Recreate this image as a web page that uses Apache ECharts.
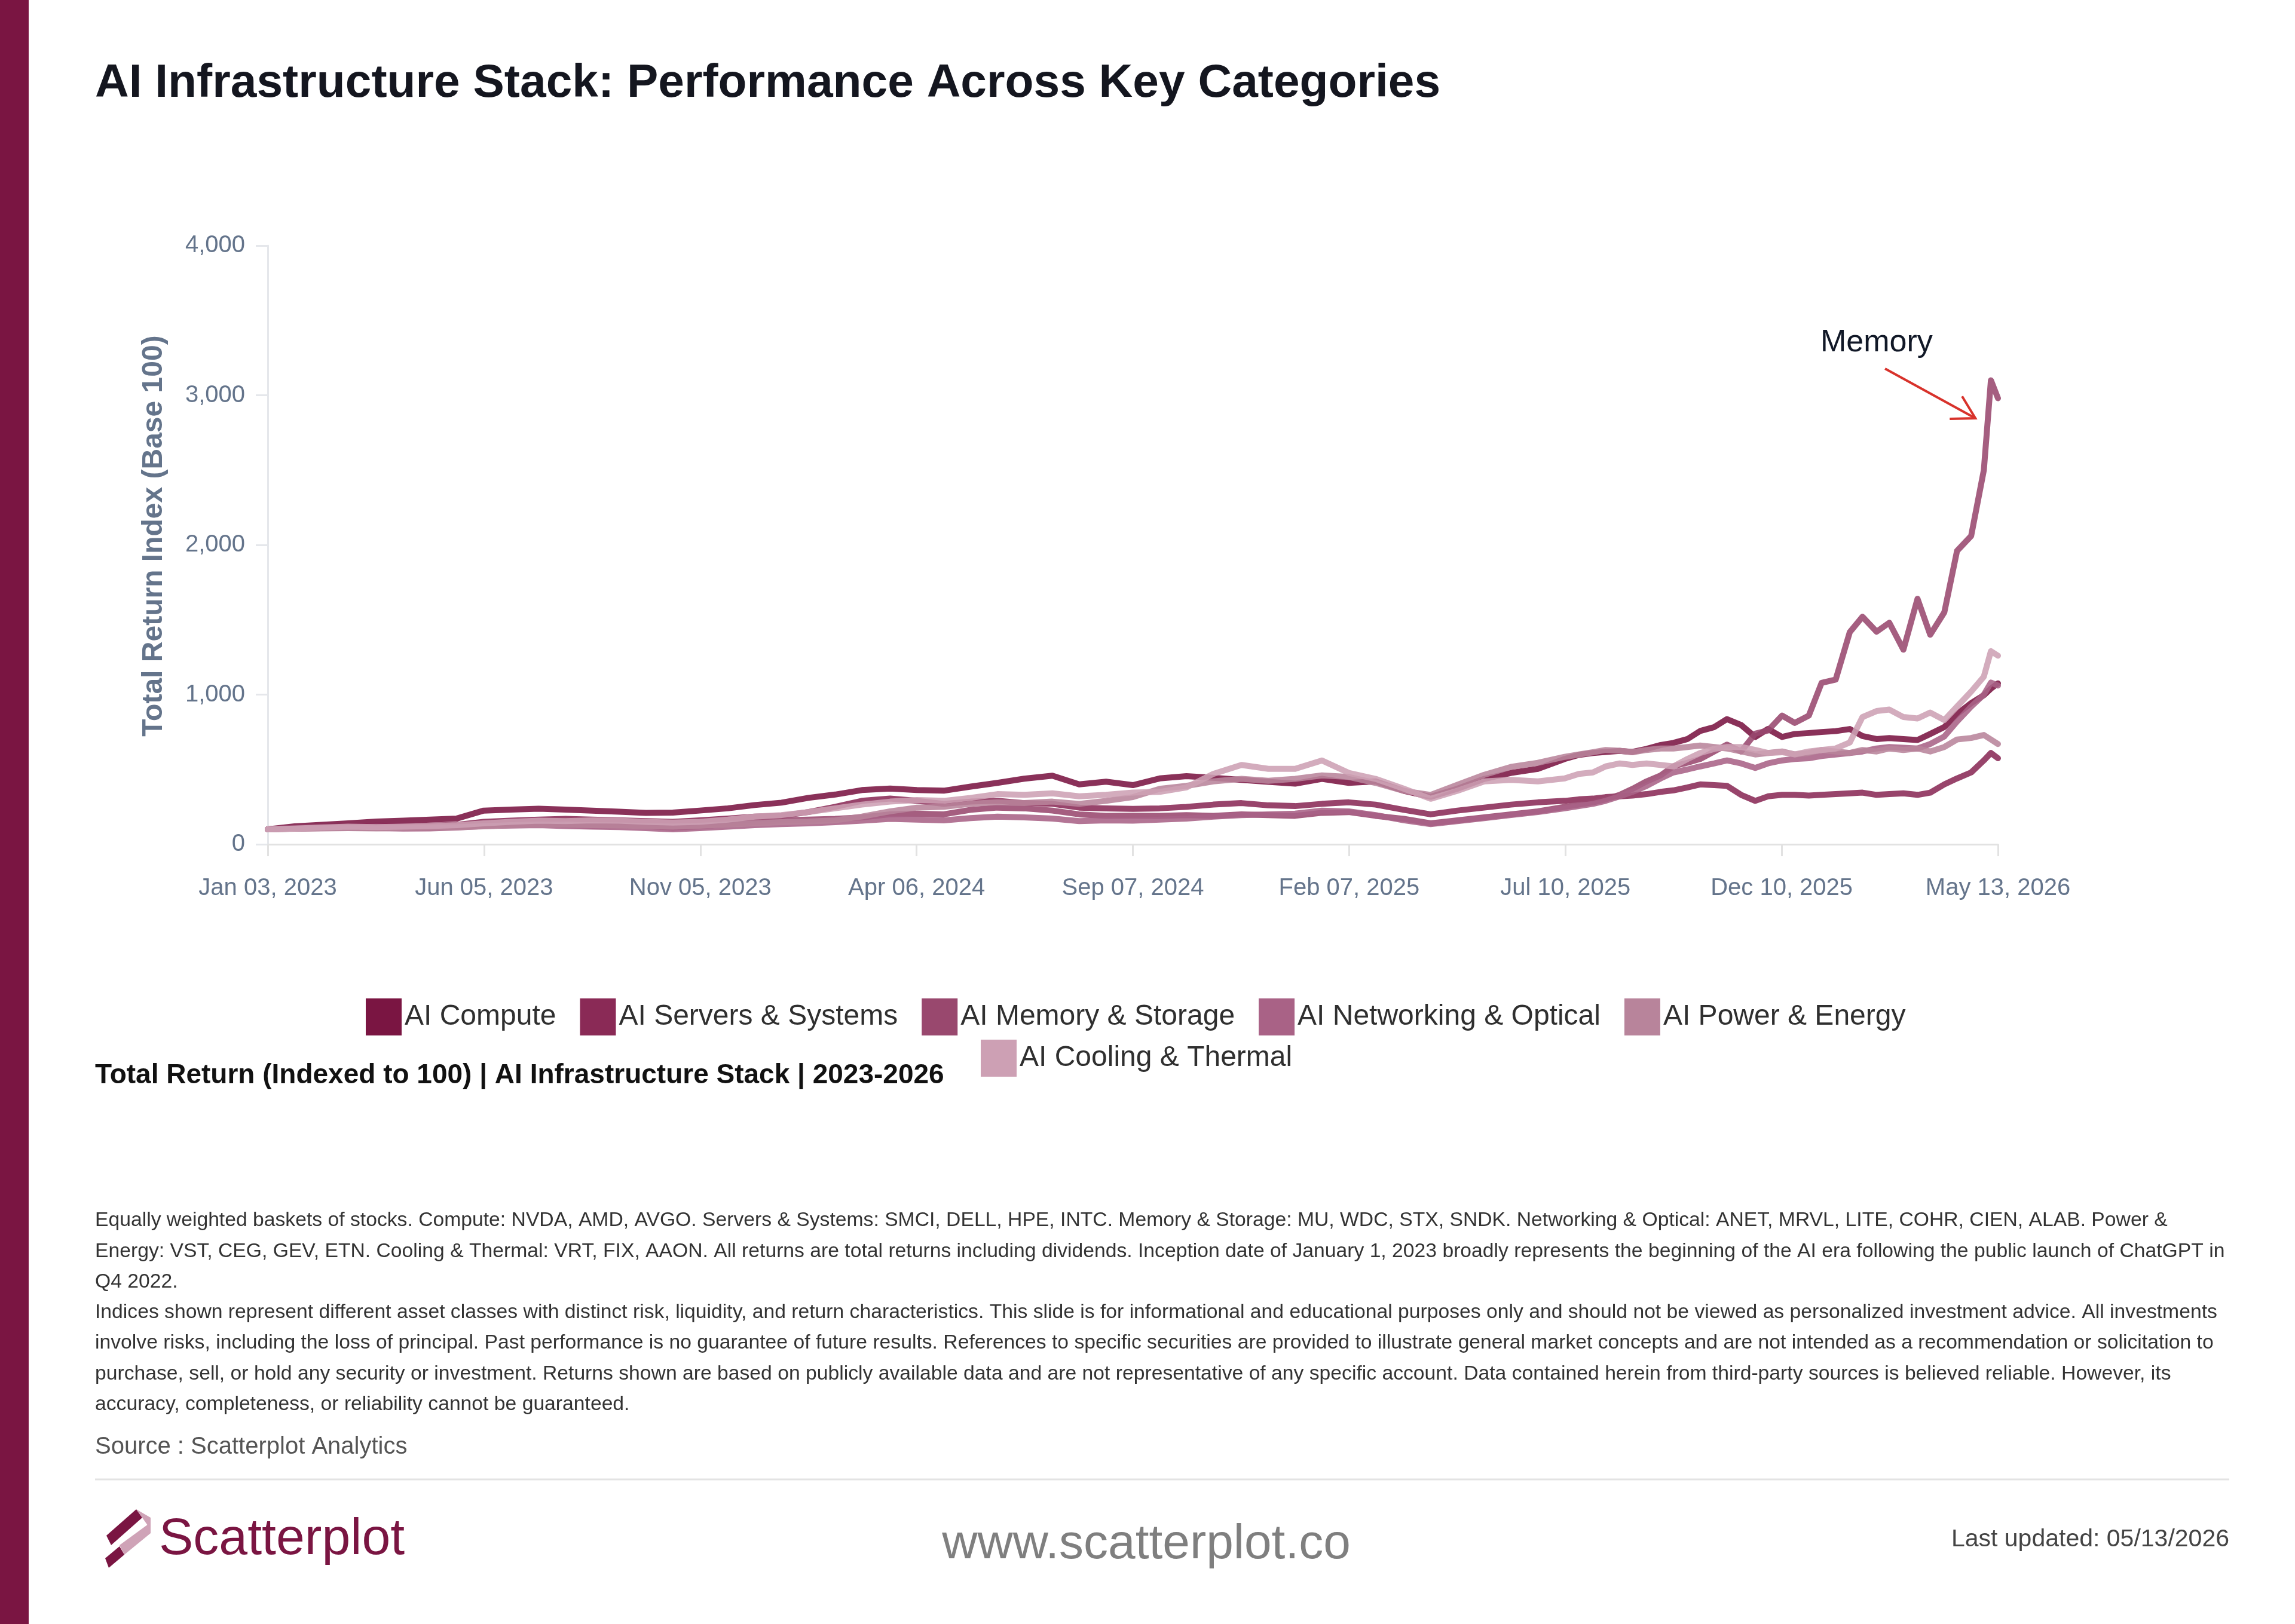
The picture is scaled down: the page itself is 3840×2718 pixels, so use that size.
<!DOCTYPE html>
<html><head><meta charset="utf-8">
<script src="https://cdn.jsdelivr.net/npm/echarts@6/dist/echarts.min.js"></script>
<style>html,body{margin:0;padding:0;background:#fff}#c{width:3840px;height:2718px}</style>
</head><body><div id="c"></div>
<script>
const dates = ["2023-01-03","2023-01-22","2023-02-10","2023-03-01","2023-03-21","2023-04-09","2023-04-28","2023-05-17","2023-06-05","2023-06-24","2023-07-14","2023-08-02","2023-08-21","2023-09-09","2023-09-28","2023-10-17","2023-11-05","2023-11-25","2023-12-14","2024-01-02","2024-01-21","2024-02-09","2024-02-28","2024-03-19","2024-04-07","2024-04-26","2024-05-15","2024-06-03","2024-06-22","2024-07-12","2024-07-31","2024-08-19","2024-09-07","2024-09-26","2024-10-15","2024-11-03","2024-11-23","2024-12-12","2024-12-31","2025-01-19","2025-02-07","2025-02-26","2025-03-18","2025-04-06","2025-04-25","2025-05-14","2025-06-02","2025-06-21","2025-07-10","2025-07-20","2025-07-30","2025-08-08","2025-08-18","2025-08-27","2025-09-06","2025-09-16","2025-09-25","2025-10-05","2025-10-14","2025-10-24","2025-11-02","2025-11-12","2025-11-22","2025-12-01","2025-12-11","2025-12-20","2025-12-30","2026-01-08","2026-01-18","2026-01-28","2026-02-06","2026-02-16","2026-02-25","2026-03-07","2026-03-17","2026-03-26","2026-04-05","2026-04-14","2026-04-24","2026-05-03","2026-05-08","2026-05-13"];

const seriesNames = ["AI Compute","AI Servers & Systems","AI Memory & Storage","AI Networking & Optical","AI Power & Energy","AI Cooling & Thermal"];

const compute = [100,120,130,140,152,158,165,172,225,232,238,232,225,218,210,212,225,240,262,278,310,332,362,372,362,358,385,410,438,458,400,418,395,440,455,444,430,417,405,437,410,420,357,317,371,437,477,504,570,
597,610,617,624,617,637,663,677,703,757,783,836,797,717,770,717,737,743,750,756,770,723,703,710,703,697,737,783,870,943,996,1040,1075];
const servers = [100,108,115,118,125,122,125,130,150,158,165,170,165,160,155,150,160,172,185,190,215,250,290,305,290,270,285,290,275,270,245,240,237,240,250,265,275,260,255,270,280,265,230,200,225,245,265,280,290,
300,305,315,320,325,335,350,360,380,400,395,390,330,290,320,330,330,325,330,335,340,345,330,335,340,330,345,400,440,480,560,610,575];
const memory = [100,110,115,112,118,112,110,118,130,132,135,128,125,128,122,112,120,135,148,160,165,170,180,200,205,200,230,245,240,225,200,190,191,190,195,190,200,195,190,210,215,190,170,140,160,180,200,220,250,
265,280,300,330,370,420,460,521,545,570,620,666,620,739,760,860,811,860,1078,1100,1417,1520,1420,1480,1300,1640,1400,1550,1960,2060,2500,3100,2980];
const networking = [100,105,108,110,108,105,106,112,122,125,128,122,118,115,108,100,108,118,128,135,140,148,158,170,165,160,175,185,180,172,155,160,158,165,172,185,195,200,205,225,220,195,160,135,155,175,195,215,240,
255,270,290,320,350,390,440,480,500,520,540,560,540,510,540,560,570,575,590,600,610,620,640,650,645,640,670,720,820,920,1000,1080,1060];
const power = [100,104,106,108,106,110,112,114,120,128,132,130,128,126,122,118,124,132,140,148,152,160,185,220,245,250,270,280,275,285,270,290,315,370,390,420,437,424,437,460,450,410,357,330,397,464,517,544,584,
600,615,630,625,615,630,640,640,650,660,650,640,620,600,610,620,600,610,630,620,610,630,620,640,630,640,620,650,700,710,730,700,670];
const cooling = [100,105,112,118,115,118,122,128,140,150,158,155,160,158,150,145,150,165,185,195,215,240,265,285,295,290,310,335,330,340,320,330,345,350,380,470,530,504,504,560,477,437,371,304,357,420,430,420,440,
470,480,520,540,530,540,530,520,570,610,637,650,650,630,610,615,600,620,630,640,680,850,890,900,850,840,880,830,920,1020,1120,1290,1260];

const yTickStep = 1000;
const yMax = 4000;
const xTickCount = 8;

const note = { label: "Memory", textAt: ["2026-02-16", 3365], from: ["2026-02-22", 3178], to: ["2026-04-27", 2846] };

const colors = ["#7a1542","#8a2a56","#99486e","#a96286","#b8849b","#cda0b4"];
const FONT = "'Liberation Sans', Arial, sans-serif";
const DAY = 86400000;
const start = Date.parse(dates[0] + "T00:00:00Z");
const toOff = d => (Date.parse(d + "T00:00:00Z") - start) / DAY;
const endOff = toOff(dates[dates.length - 1]);
const MON = ["Jan","Feb","Mar","Apr","May","Jun","Jul","Aug","Sep","Oct","Nov","Dec"];
function fmtDate(v) {
  const dt = new Date(start + v * DAY);
  const dd = String(dt.getUTCDate()).padStart(2, "0");
  return MON[dt.getUTCMonth()] + " " + dd + ", " + dt.getUTCFullYear();
}
const allVals = [compute, servers, memory, networking, power, cooling];

const chart = echarts.init(document.getElementById("c"), null, { renderer: "canvas", width: 3840, height: 2718 });

const footLines = [
  "Equally weighted baskets of stocks. Compute: NVDA, AMD, AVGO. Servers & Systems: SMCI, DELL, HPE, INTC. Memory & Storage: MU, WDC, STX, SNDK. Networking & Optical: ANET, MRVL, LITE, COHR, CIEN, ALAB. Power &",
  "Energy: VST, CEG, GEV, ETN. Cooling & Thermal: VRT, FIX, AAON. All returns are total returns including dividends. Inception date of January 1, 2023 broadly represents the beginning of the AI era following the public launch of ChatGPT in",
  "Q4 2022.",
  "Indices shown represent different asset classes with distinct risk, liquidity, and return characteristics. This slide is for informational and educational purposes only and should not be viewed as personalized investment advice. All investments",
  "involve risks, including the loss of principal. Past performance is no guarantee of future results. References to specific securities are provided to illustrate general market concepts and are not intended as a recommendation or solicitation to",
  "purchase, sell, or hold any security or investment. Returns shown are based on publicly available data and are not representative of any specific account. Data contained herein from third-party sources is believed reliable. However, its",
  "accuracy, completeness, or reliability cannot be guaranteed."
];

function txt(text, x, y, size, color, opts) {
  opts = opts || {};
  return { type: "text", x: x, y: y, silent: true, style: { text: text, fill: color,
    font: (opts.weight || "normal") + " " + size + "px " + FONT, align: opts.align || "left", verticalAlign: "middle" } };
}

const staticGraphics = [
  { type: "rect", shape: { x: 0, y: 0, width: 48, height: 2718 }, style: { fill: "#7a1542" }, silent: true },
  txt("AI Infrastructure Stack: Performance Across Key Categories", 159, 140, 78.5, "#14161f", { weight: "bold" }),
  txt("Total Return (Indexed to 100) | AI Infrastructure Stack | 2023-2026", 159, 1800, 46, "#111111", { weight: "bold" }),
  txt("Source : Scatterplot Analytics", 159, 2422, 40, "#555555"),
  { type: "line", shape: { x1: 159, y1: 2476, x2: 3730, y2: 2476 }, style: { stroke: "#e3e3e3", lineWidth: 3 }, silent: true },
  { type: "polygon", shape: { points: [[178,2570],[228,2526],[238,2540],[186,2586]] }, style: { fill: "#7a1542" }, silent: true },
  { type: "polygon", shape: { points: [[228,2526],[252,2540],[252,2560],[238,2540]] }, style: { fill: "#cfa3b7" }, silent: true },
  { type: "polygon", shape: { points: [[200,2586],[252,2548],[252,2566],[208,2602]] }, style: { fill: "#cfa3b7" }, silent: true },
  { type: "polygon", shape: { points: [[176,2608],[200,2588],[208,2602],[182,2624]] }, style: { fill: "#7a1542" }, silent: true },
  txt("Scatterplot", 266, 2577, 86, "#7a1542"),
  txt("www.scatterplot.co", 1918, 2585, 82, "#7f7f7f", { align: "center" }),
  txt("Last updated: 05/13/2026", 3730, 2577, 41, "#444444", { align: "right" })
];
footLines.forEach((l, i) => staticGraphics.push(txt(l, 159, 2043 + i * 51.3, 33.7, "#333333")));

const legendCommon = { orient: "horizontal", icon: "rect", itemWidth: 60, itemHeight: 62, itemGap: 40, padding: 0,
  textStyle: { fontSize: 48, color: "#2f2f2f", fontFamily: FONT }, selectedMode: false };

const option = {
  animation: false,
  backgroundColor: "#ffffff",
  color: colors,
  grid: { left: 448, right: 497, top: 411, bottom: 1305, containLabel: false },
  legend: [
    Object.assign({ data: seriesNames.slice(0, 5), left: 612, top: 1671 }, legendCommon),
    Object.assign({ data: seriesNames.slice(5), left: 1641, top: 1740 }, legendCommon)
  ],
  xAxis: {
    type: "value", min: 0, max: endOff, interval: endOff / xTickCount,
    axisLine: { show: true, lineStyle: { color: "#e2e2e2", width: 3 } },
    axisTick: { show: true, length: 20, lineStyle: { color: "#e2e2e2", width: 3 } },
    axisLabel: { formatter: fmtDate, fontSize: 40, color: "#64748b", fontFamily: FONT, margin: 54, showMaxLabel: true, showMinLabel: true },
    splitLine: { show: false }
  },
  yAxis: {
    type: "value", min: 0, max: yMax, interval: yTickStep,
    name: "Total Return Index (Base 100)", nameLocation: "middle", nameRotate: 90, nameGap: 166,
    nameTextStyle: { fontSize: 48, fontWeight: "bold", color: "#64748b", fontFamily: FONT, padding: [0, 0, 0, 30] },
    axisLine: { show: true, lineStyle: { color: "#e5e7eb", width: 3 } },
    axisTick: { show: true, length: 20, lineStyle: { color: "#e5e7eb", width: 3 } },
    axisLabel: { fontSize: 40, color: "#64748b", fontFamily: FONT, margin: 38,
      formatter: v => v.toLocaleString("en-US") },
    splitLine: { show: false }
  },
  series: seriesNames.map((n, i) => ({
    name: n, type: "line", showSymbol: false, symbol: "none",
    data: dates.map((d, j) => [toOff(d), allVals[i][j]]),
    lineStyle: { width: 10, color: colors[i], opacity: 0.88, cap: "round", join: "round" },
    itemStyle: { color: colors[i] },
    emphasis: { disabled: true }
  })),
  graphic: staticGraphics
};
chart.setOption(option);

const P = a => chart.convertToPixel({ gridIndex: 0 }, [toOff(a[0]), a[1]]);
const tp = P(note.textAt), p0 = P(note.from), p1 = P(note.to);
const ang = Math.atan2(p1[1] - p0[1], p1[0] - p0[0]);
const hl = 43, ha = Math.PI / 6;
const h1 = [p1[0] - hl * Math.cos(ang - ha), p1[1] - hl * Math.sin(ang - ha)];
const h2 = [p1[0] - hl * Math.cos(ang + ha), p1[1] - hl * Math.sin(ang + ha)];
const red = "#d8322b";
const annot = [
  txt(note.label, tp[0], tp[1] + 4, 52, "#111827", { align: "center" }),
  { type: "line", shape: { x1: p0[0], y1: p0[1], x2: p1[0], y2: p1[1] }, style: { stroke: red, lineWidth: 4 }, silent: true },
  { type: "polyline", shape: { points: [h1, p1, h2] }, style: { stroke: red, lineWidth: 4, fill: null }, silent: true }
];
chart.setOption({ graphic: staticGraphics.concat(annot) });
</script></body></html>
